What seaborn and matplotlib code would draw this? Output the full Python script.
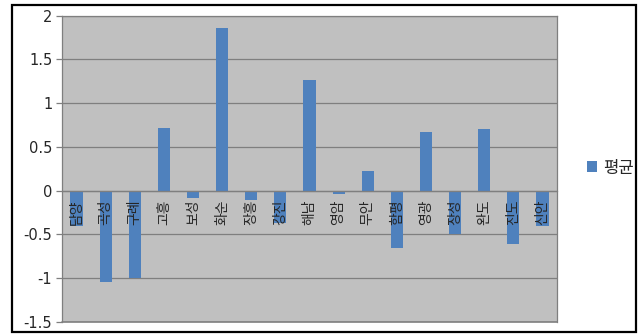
import matplotlib
matplotlib.use("Agg")
import matplotlib.pyplot as plt
import seaborn as sns
import pandas as pd
import numpy as np
from matplotlib.patches import Rectangle

categories = ["담양", "곡성", "구례", "고흥", "보성", "화순", "장흥", "강진", "해남",
              "영암", "무안", "함평", "영광", "장성", "완도", "진도", "신안"]
values = [-0.40, -1.04, -1.00, 0.72, -0.08, 1.86, -0.11, -0.37, 1.27,
          -0.04, 0.22, -0.65, 0.67, -0.50, 0.70, -0.61, -0.40]
series_name = "평균"
y_ticks = [-1.5, -1, -0.5, 0, 0.5, 1, 1.5, 2]
y_tick_labels = ["-1.5", "-1", "-0.5", "0", "0.5", "1", "1.5", "2"]

sns.set_style("white")
plt.rcParams['font.family'] = ['Noto Sans CJK KR', 'DejaVu Sans']

df = pd.DataFrame({"지역": categories, "값": values, "계열": series_name})

fig = plt.figure(figsize=(6.44, 3.36), dpi=100)
fig.patch.set_facecolor("white")
ax = fig.add_axes([62/644, 1 - 322/336, (557 - 62)/644, (322 - 15.7)/336])

sns.barplot(data=df, x="지역", y="값", hue="계열", palette=["#4F81BD"],
            width=0.42, ax=ax, saturation=1, linewidth=0, zorder=2)

ax.set_facecolor("#C0C0C0")
ax.set_ylim(-1.5, 2)
ax.set_xlim(-0.5, len(categories) - 0.5)
ax.set_yticks(y_ticks)
ax.set_yticklabels(y_tick_labels, fontsize=10.5, family=['DejaVu Sans'])
ax.set_xlabel("")
ax.set_ylabel("")
for yv in y_ticks:
    ax.axhline(yv, color="#7F7F7F", lw=0.9, zorder=1)

# frame
for s in ["top", "right", "left"]:
    ax.spines[s].set_visible(True)
    ax.spines[s].set_color("#7F7F7F")
    ax.spines[s].set_linewidth(0.9)
ax.spines["bottom"].set_position(("data", 0))
ax.spines["bottom"].set_color("#7F7F7F")
ax.spines["bottom"].set_linewidth(0.9)
ax.spines["bottom"].set_zorder(4)

ax.set_xticks(range(len(categories)))
ax.set_xticklabels(categories, rotation=90, fontsize=10, fontweight="medium")
ax.set_xticks(np.arange(-0.5, len(categories), 1), minor=True)
ax.tick_params(axis="x", which="major", length=0, pad=6)
ax.tick_params(axis="x", which="minor", length=4, color="#7F7F7F", width=0.9)
ax.tick_params(axis="y", which="major", length=4, color="#7F7F7F", width=0.9, pad=3, direction="out", left=True)
ax.xaxis.set_zorder(5)

ax.plot([-0.5, len(categories) - 0.5], [-1.5, -1.5], color="#7F7F7F", lw=1.2, zorder=5, clip_on=False)

leg = ax.legend(loc="center left", bbox_to_anchor=(580/644, 0.5), bbox_transform=fig.transFigure,
                frameon=False, fontsize=12, handlelength=0.6, handleheight=0.6, handletextpad=0.4,
                borderaxespad=0)

fig.patches.append(Rectangle((12/644, 1 - 332/336), 624/644, 327/336, transform=fig.transFigure,
                             fill=False, edgecolor="black", lw=1.6, zorder=10))

fig.savefig("out.png", dpi=100)
